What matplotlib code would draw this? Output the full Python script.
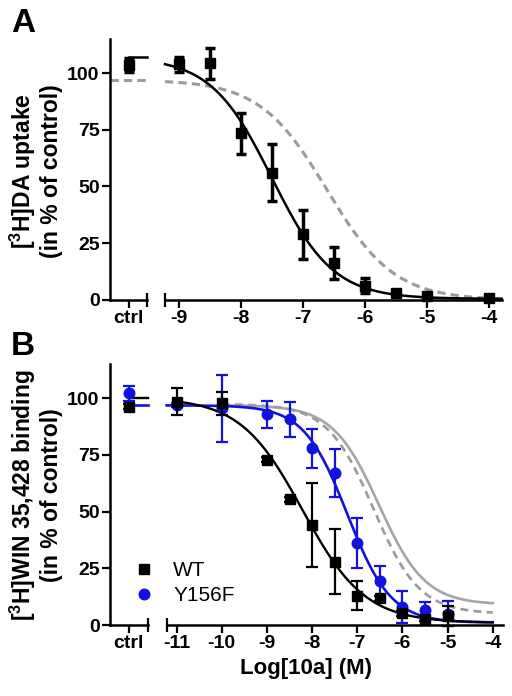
import numpy as np
import matplotlib
matplotlib.use("Agg")
import matplotlib.pyplot as plt
from matplotlib.lines import Line2D

plt.rcParams['font.family'] = ['Liberation Sans', 'DejaVu Sans']
plt.rcParams['font.weight'] = 'bold'
plt.rcParams['mathtext.fontset'] = 'custom'
for k in ['rm', 'bf', 'it', 'sf']:
    plt.rcParams['mathtext.' + k] = 'Liberation Sans:bold'

# ---------------- data ----------------
# Panel A: [3H]DA uptake, WT
A_ctrl_y, A_ctrl_err = 103.5, 3.0
A_x = [-9, -8.5, -8, -7.5, -7, -6.5, -6, -5.5, -5, -4]
A_y = [103.8, 104.2, 73.4, 56.1, 28.9, 16.2, 6.3, 3.0, 1.9, 1.0]
A_err = [3.3, 6.8, 9.0, 12.5, 10.8, 7.0, 3.3, 1.0, 1.0, 1.0]
# fitted curves (top, bottom, logIC50, hill)
A_fit_wt = (107.0, 0.5, -7.50, 0.88)
A_fit_ref = (97.0, 0.0, -6.61, 0.80)

# Panel B: [3H]WIN 35,428 binding
B_ctrl_wt, B_ctrl_wt_err = 96.3, 1.0
B_ctrl_mut, B_ctrl_mut_err = 102.2, 3.2
B_x = [-11, -10, -9, -8.5, -8, -7.5, -7, -6.5, -6, -5.5, -5]
B_wt_y = [98.5, 97.8, 73.0, 55.4, 44.1, 28.0, 12.9, 11.8, 5.1, 2.8, 3.8]
B_wt_err = [6.0, 5.0, 1.0, 1.0, 18.6, 14.5, 6.4, 1.0, 1.0, 1.0, 4.4]
B_mut_y = [97.0, 95.6, 93.0, 90.7, 77.9, 66.9, 36.0, 19.6, 8.0, 6.6, 5.0]
B_mut_err = [1.0, 14.7, 5.9, 7.8, 8.6, 10.6, 11.0, 6.6, 7.1, 3.7, 5.6]
B_fit_wt = (100.3, 1.0, -8.21, 0.63)
B_fit_mut = (96.9, 1.0, -7.22, 0.90)
B_fit_gray_solid = (97.0, 9.0, -6.52, 0.85)
B_fit_gray_dash = (97.5, 5.0, -6.64, 0.85)

A_xticks = [-9, -8, -7, -6, -5, -4]
B_xticks = [-11, -10, -9, -8, -7, -6, -5, -4]
y_ticks = [0, 25, 50, 75, 100]
legend_labels = ['WT', 'Y156F']

BLUE = '#1212e0'
GRAY = '#a6a6a6'
GRAY_D = '#9b9b9b'

def logistic(x, p):
    top, bot, c, h = p
    return bot + (top - bot) / (1 + 10 ** (h * (x - c)))

W, H = 512, 696
fig = plt.figure(figsize=(W / 100, H / 100), dpi=100)

def ax_rect(l, r, b, t):
    return [l / W, 1 - b / H, (r - l) / W, (b - t) / H]

TICK_FS = 14
LW_SP = 1.8

def style(ax, ctrl):
    for s in ['top', 'right']:
        ax.spines[s].set_visible(False)
    ax.spines['bottom'].set_linewidth(LW_SP)
    ax.spines['left'].set_linewidth(LW_SP)
    if not ctrl:
        ax.spines['left'].set_visible(False)
        ax.tick_params(axis='y', left=False, labelleft=False)
    ax.tick_params(axis='both', which='major', length=5.5, width=1.6,
                   labelsize=TICK_FS, pad=2.0, direction='out')
    ax.tick_params(axis='x', which='minor', length=9.5, width=1.6, direction='inout')
    ax.tick_params(axis='y', which='minor', left=False)
    ax.set_ylim(0, 115)
    ax.set_yticks(y_ticks)
    ax.patch.set_alpha(0)

def ctrl_axes(rect):
    ax = fig.add_axes(rect)
    style(ax, True)
    ax.set_xlim(-1, 1)
    ax.set_xticks([0])
    ax.set_xticklabels(['ctrl'])
    ax.set_xticks([1], minor=True)
    return ax

def main_axes(rect, xlim, ticks):
    ax = fig.add_axes(rect)
    style(ax, False)
    ax.set_xlim(*xlim)
    ax.set_xticks(ticks)
    ax.set_xticklabels([str(t) for t in ticks])
    ax.set_xticks([xlim[0]], minor=True)
    return ax

# ---------------- Panel A ----------------
a0 = ctrl_axes(ax_rect(110, 147, 300, 300 - 115 * 2.27))
a1 = main_axes(ax_rect(165, 501.7, 300, 300 - 115 * 2.27), (-9.226, -3.79), A_xticks)

a0.plot([-1, 1], [A_fit_ref[0]] * 2, color=GRAY_D, lw=2.2, dashes=(2.7, 1.7), zorder=2, clip_on=False)
a0.plot([0, 1], [A_fit_wt[0]] * 2, color='black', lw=1.8, zorder=3, clip_on=False)
a0.errorbar([0], [A_ctrl_y], yerr=[A_ctrl_err], fmt='s', color='black', ms=7.4,
            elinewidth=2.5, capsize=3.6, capthick=2.5, zorder=5, clip_on=False)

xa = np.linspace(-9.226, -3.79, 400)
a1.plot(xa, logistic(xa, A_fit_ref), color=GRAY_D, lw=2.2, dashes=(2.7, 1.7), zorder=2, clip_on=False)
a1.plot(xa, logistic(xa, A_fit_wt), color='black', lw=1.8, zorder=3, clip_on=False)
a1.errorbar(A_x, A_y, yerr=A_err, fmt='s', color='black', ms=7.4,
            elinewidth=2.5, capsize=3.6, capthick=2.5, zorder=5, clip_on=False)

# ---------------- Panel B ----------------
b0 = ctrl_axes(ax_rect(110, 147.7, 625, 625 - 115 * 2.267))
b1 = main_axes(ax_rect(166.7, 503.3, 625, 625 - 115 * 2.267), (-11.22, -3.765), B_xticks)

b0.plot([0, 1], [B_fit_mut[0]] * 2, color=BLUE, lw=1.9, zorder=2, clip_on=False)
b0.plot([0, 1], [B_fit_wt[0]] * 2, color='black', lw=1.7, zorder=3, clip_on=False)
b0.errorbar([0], [B_ctrl_mut], yerr=[B_ctrl_mut_err], fmt='o', color=BLUE, ms=7.6,
            elinewidth=1.6, capsize=4.3, capthick=1.6, zorder=4, clip_on=False)
b0.errorbar([0], [B_ctrl_wt], yerr=[B_ctrl_wt_err], fmt='s', color='black', ms=7.4,
            elinewidth=1.6, capsize=4.3, capthick=1.6, zorder=5, clip_on=False)

xg = np.linspace(-10, -4, 400)
b1.plot(xg, logistic(xg, B_fit_gray_solid), color=GRAY, lw=1.9, zorder=1)
b1.plot(xg, logistic(xg, B_fit_gray_dash), color=GRAY_D, lw=1.9, dashes=(3, 2), zorder=1)
xm = np.linspace(-11.22, -4, 400)
b1.plot(xm, logistic(xm, B_fit_mut), color=BLUE, lw=1.9, zorder=2, clip_on=False)
xw = np.linspace(-11, -4, 400)
b1.plot(xw, logistic(xw, B_fit_wt), color='black', lw=1.7, zorder=3, clip_on=False)
b1.errorbar(B_x, B_mut_y, yerr=B_mut_err, fmt='o', color=BLUE, ms=7.6,
            elinewidth=1.6, capsize=4.3, capthick=1.6, zorder=4, clip_on=False)
b1.errorbar(B_x, B_wt_y, yerr=B_wt_err, fmt='s', color='black', ms=7.4,
            elinewidth=1.6, capsize=4.3, capthick=1.6, zorder=5, clip_on=False)

b1.set_xlabel('Log[10a] (M)', fontsize=16, fontweight='bold')
b1.xaxis.set_label_coords((306 - 166.7) / (503.3 - 166.7), -0.125)

# legend
handles = [Line2D([], [], marker='s', color='black', ls='none', ms=7.4),
           Line2D([], [], marker='o', color=BLUE, ls='none', ms=7.6)]
fig.legend(handles, legend_labels, loc='center left', frameon=False,
           bbox_to_anchor=((144 - 10.4) / W, 1 - 583 / H),
           prop={'family': 'Liberation Sans', 'weight': 'normal', 'size': 15},
           handlelength=1.0, handletextpad=0.9, labelspacing=0.3,
           borderpad=0, borderaxespad=0)

# y labels
fig.text(35.5 / W, 1 - 171.5 / H, '[$^{3}$H]DA uptake\n(in % of control)',
         rotation=90, ha='center', va='center', multialignment='center',
         fontsize=16.5, fontweight='bold', linespacing=1.1)
fig.text(35.5 / W, 1 - 495 / H, '[$^{3}$H]WIN 35,428 binding\n(in % of control)',
         rotation=90, ha='center', va='center', multialignment='center',
         fontsize=16.5, fontweight='bold', linespacing=1.1)

# panel letters
fig.text(11 / W, 1 - 32 / H, 'A', fontsize=24, fontweight='bold', va='baseline', ha='left')
fig.text(11 / W, 1 - 355 / H, 'B', fontsize=24, fontweight='bold', va='baseline', ha='left')

fig.savefig('out.png', dpi=100)
